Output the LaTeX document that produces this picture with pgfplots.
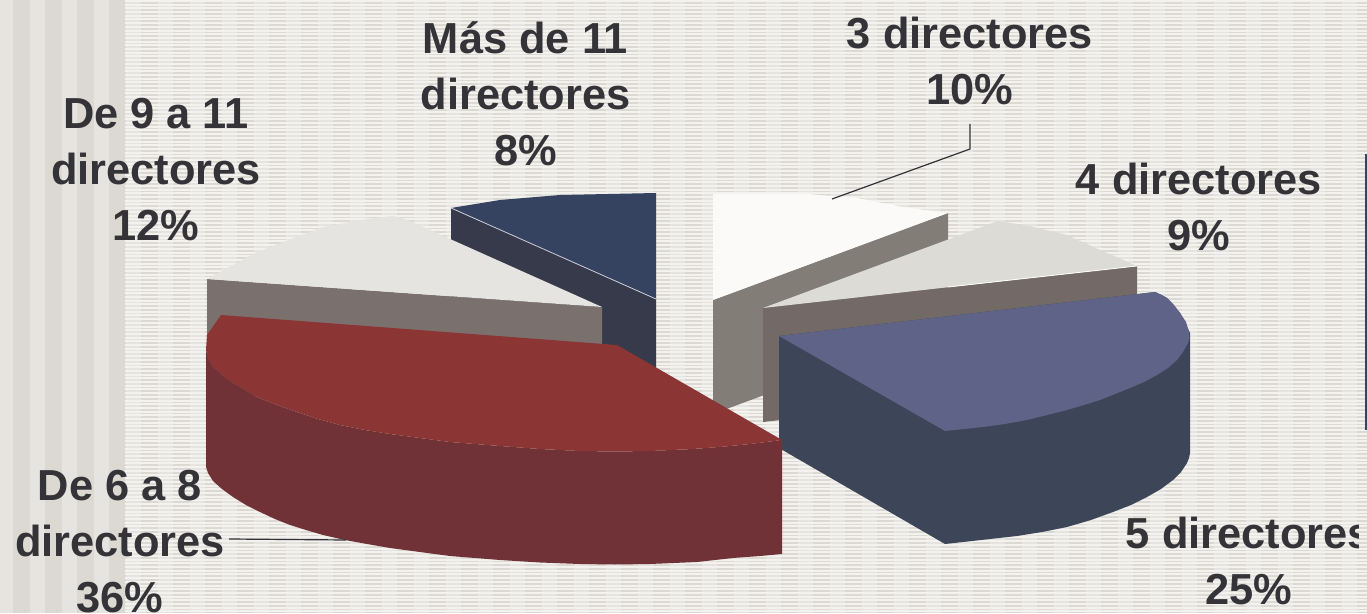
\documentclass[border=0pt]{standalone}
\usepackage{pgfplots}
\pgfplotsset{compat=1.18}
\usepackage{fontspec}
\setmainfont{Liberation Sans}
\definecolor{bgL}{HTML}{E5E4E0}
\definecolor{bgD}{HTML}{DBD9D1}
\definecolor{bgH}{HTML}{F3F2EE}
\definecolor{txt}{HTML}{333338}
\definecolor{aT}{HTML}{FBFAF8}\definecolor{aS}{HTML}{827D77}
\definecolor{bT}{HTML}{DDDBD5}\definecolor{bS}{HTML}{736A67}
\definecolor{cT}{HTML}{5E6387}\definecolor{cS}{HTML}{3D4658}
\definecolor{dT}{HTML}{8C3535}\definecolor{dS}{HTML}{713237}
\definecolor{eT}{HTML}{E5E4E0}\definecolor{eS}{HTML}{7A716E}
\definecolor{fT}{HTML}{354260}\definecolor{fS}{HTML}{363A4B}
\begin{document}
\begin{tikzpicture}[x=1pt,y=1pt]
% background stripes
\fill[bgL] (0,0) rectangle (1367,613);
\foreach \x in {13,45,...,1357} {\fill[bgD] (\x,0) rectangle ({min(\x+17,1367)},613);}
\foreach \y in {0.5,4.2,...,613} {\fill[bgH] (125,\y) rectangle (1367,\y+2);}
\begin{axis}[at={(0pt,0pt)},anchor=south west,scale only axis,width=1367pt,height=613pt,
  xmin=0,xmax=1367,ymin=0,ymax=613,y dir=reverse,hide axis,clip=false]
% 8 % slice
\addplot[fill=fS,draw=none] coordinates {(451,208)(656,299)(656,410)(451,320)} -- cycle;
\addplot[fill=fT,draw=none] coordinates {(656,299)(451,208)(500,200)(560,195)(656,193)} -- cycle;
\addplot[draw=white!75!fT,line width=0.8pt] coordinates {(451,208)(656,299)};
% 12 % slice
\addplot[fill=eS,draw=none] coordinates {(207,279)(602,307)(602,420)(207,392)} -- cycle;
\addplot[fill=eT,draw=none] coordinates {(602,307)(430,230)(405,219)(393,216)(367,219)(323,227)(257,252)(207,279)} -- cycle;
% 10 % slice
\addplot[fill=aS,draw=none] coordinates {(713,300)(948,213)(948,327)(713,414)} -- cycle;
\addplot[fill=aT,draw=none] coordinates {(713,300)(713,194)(807,194)(857,198)(903,207)(948,213)} -- cycle;
% 9 % slice
\addplot[fill=bS,draw=none] coordinates {(763,308)(1137,266)(1137,380)(763,422)} -- cycle;
\addplot[fill=bT,draw=none] coordinates {(763,308)(990,224)(998,221)(1030,226)(1067,235)(1100,250)(1137,266)} -- cycle;
\addplot[draw=white,line width=0.8pt] coordinates {(948,287)(1137,266)};
% 25 % slice
\addplot[fill=cS,draw=none] coordinates {(779,336)(1155,292)(1167,298)(1180,313)(1190,333)(1190,453)(1189,458)(1187,463)(1181,472)(1173,480)(1161,489)(1147,497)(1131,505)(1113,512)(1091,520)(1067,527)(1042,532)(1017,536)(981,540)(945,544)(779,448)} -- cycle;
\addplot[fill=cT,draw=none] coordinates {(779,336)(1155,292)(1162,295)(1167,298)(1174,305)(1180,313)(1186,322)(1189,332)(1189.5,338)(1188,343)(1183,352)(1177,360)(1168,368)(1157,375)(1144,382)(1130,388)(1115,394)(1100,400)(1084,405)(1067,410)(1047,415)(1027,420)(1005,424)(983,427)(964,429)(945,431)} -- cycle;
% 36 % slice
\addplot[fill=dS,draw=none] coordinates {(206,350)(208,358)(213,367)(222,375)(233,383)(245,390)(257,397)(277,405)(297,412)(318,419)(340,425)(365,430)(390,434)(420,438)(450,442)(500,446)(540,449)(580,451)(615,451.5)(650,451)(693,449)(725,446.5)(750,444)(782,440)(782,554)(760,556)(733,558)(697,562)(650,564)(615,564.5)(580,564)(540,562.5)(500,560)(450,556)(420,552)(390,548)(367,544)(345,540)(323,535)(306,530)(290,525)(275,519)(260,512)(246,505)(233,497)(222,489)(213,481)(208,473)(206,467)} -- cycle;
\addplot[fill=dT,draw=none] coordinates {(221,315)(617,345)(782,440)(750,444)(725,446.5)(693,449)(650,451)(615,451.5)(580,451)(540,449)(500,446)(450,442)(420,438)(390,434)(365,430)(340,425)(318,419)(297,412)(277,405)(257,397)(245,390)(233,383)(222,375)(213,367)(208,358)(206,350)(207,335)} -- cycle;
% leader lines
\addplot[draw=txt,line width=1.2pt] coordinates {(832,199)(970,149)(970,124)};
\addplot[draw=txt,line width=1.2pt] coordinates {(229,539)(346,540)};
% legend frame remnant
\addplot[draw=fT,line width=2pt] coordinates {(1365.5,154)(1365.5,430)};
% labels
\tikzset{lab/.style={align=center,text=txt,inner sep=0pt,font=\fontsize{43.4}{56}\selectfont\bfseries}}
\node[lab] at (axis cs:525.5,93.5) {Más de 11\\directores\\8\%};
\node[lab] at (axis cs:970,60.5) {3 directores\\10\%};
\node[lab] at (axis cs:1199,207) {4 directores\\9\%};
\node[lab] at (axis cs:156,169.5) {De 9 a 11\\directores\\12\%};
\node[lab] at (axis cs:120,542) {De 6 a 8\\directores\\36\%};
\begin{scope}
\clip (axis cs:0,0) rectangle (axis cs:1358,613);
\node[lab] at (axis cs:1249,561) {5 directores\\25\%};
\end{scope}
\end{axis}
\end{tikzpicture}
\end{document}
